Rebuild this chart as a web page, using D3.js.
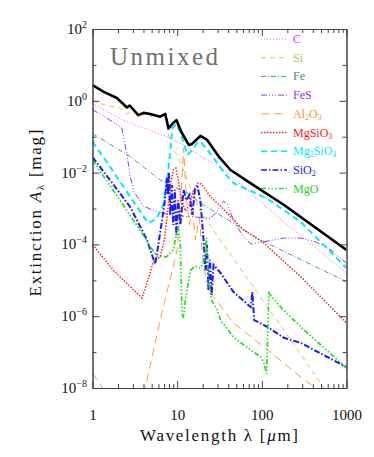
<!DOCTYPE html>
<html>
<head>
<meta charset="utf-8">
<script src="https://cdn.jsdelivr.net/npm/d3@7"></script>
<style>
body { margin: 0; background: #fff; }
text { font-family: "Liberation Serif", "DejaVu Serif", serif; }
.axis path, .axis line { stroke: #444; stroke-width: 1; }
.axis text { fill: #111; font-size: 15px; }
</style>
</head>
<body>
<svg id="vis" width="374" height="457"></svg>
<script>
// wavelength [um], extinction [mag]
var total = [[1,2.75],[1.34,1.8],[1.94,1.2],[2.55,0.65],[2.75,0.74],[3.47,0.40],[4.0,0.46],[4.8,0.43],[6.3,0.36],[7.25,0.43],[7.9,0.17],[8.8,0.23],[9.8,0.29],[11.2,0.135],[13.7,0.059],[15,0.063],[18.8,0.105],[22.6,0.081],[31,0.028],[42.7,0.0118],[74,0.005],[183,0.00125],[416,3.1e-4],[1000,7e-5]];
var carbon = [[1,0.84],[2.3,0.29],[3.66,0.19],[7.6,0.10],[13.2,0.052],[18.8,0.029],[32.5,0.0143],[182,4.2e-4],[1000,1.6e-5]];
var silicon = [[1,1.0],[1.41,0.76],[2.12,0.63],[2.5,0.43],[3.02,0.52],[3.66,0.38],[4.43,0.46],[5.2,0.33],[6.3,0.40],[7.45,0.31],[8.1,0.081],[8.8,0.043],[10,0.031],[18.8,8.1e-4],[56,2.1e-5],[182,4.1e-7],[600,7.2e-9],[1000,1e-9]];
var iron = [[1,0.123],[2.79,0.0277],[6.3,0.0062],[13.1,0.0027],[18.8,0.00142],[97,1.33e-4],[1000,9.1e-6]];
var fes = [[1,0.57],[1.61,0.29],[2.22,0.175],[2.36,0.081],[2.56,0.031],[2.78,0.008],[3.1,0.0029],[3.97,1.17e-3],[5.5,8.5e-4],[8.3,6.6e-4],[15.6,5.8e-4],[24.8,5.4e-4],[29.2,8e-4],[32.5,1.25e-3],[35.3,1.6e-3],[39.4,1.33e-3],[42.7,7.5e-4],[49,3.7e-4],[61,1.6e-4],[74,1.03e-4],[102,1.17e-4],[182,1.5e-4],[289,1.5e-4],[435,1.17e-4],[656,7e-5],[1000,3e-5]];
var al2o3 = [[1,2.6e-8],[3.17,4.9e-10],[6.3,7.8e-7],[10,7e-5],[11.2,3.3e-3],[11.9,0.048],[12.9,1.7e-3],[14,3.5e-4],[15.1,1.25e-3],[16.4,1.3e-4],[18.3,5.4e-4],[20.4,2.7e-5],[23.4,5.4e-6],[46,6.5e-7],[117,1.15e-7],[289,2e-8],[605,5.6e-9],[1000,1.5e-9]];
var mgsio3 = [[1,1e-4],[1.75,1.94e-5],[3.83,3.2e-6],[4.4,8.4e-6],[5.22,3.2e-5],[6.3,4.5e-5],[7.05,1.33e-4],[7.65,6.6e-4],[8.3,4.5e-3],[9.0,0.0118],[9.66,0.0134],[10.3,6.2e-3],[11.2,1.73e-3],[12.5,8.5e-4],[14,1.25e-3],[15.6,3.3e-3],[17.6,5.1e-3],[19.4,4.8e-3],[24.8,2.1e-3],[32.5,1.17e-3],[61,2.5e-4],[105,1.1e-4],[289,1.24e-5],[1000,6.5e-7]];
var mg2sio4 = [[1,0.073],[1.61,0.0146],[2.79,2.1e-3],[4.55,3.9e-4],[5.67,5.1e-4],[6.86,1.25e-3],[7.65,6.2e-3],[8.3,0.043],[8.77,0.175],[9.78,0.226],[10.6,0.154],[11.9,0.071],[13.2,0.031],[15.1,0.043],[17.4,0.071],[19.4,0.067],[22.8,0.043],[26.9,0.0255],[35.3,0.0104],[46.4,5.1e-3],[73.8,3.1e-3],[117,1.84e-3],[289,4.2e-4],[1000,2.2e-5]];
var sio2 = [[1,0.0272],[1.61,6.2e-3],[2.79,1.1e-3],[4.4,1.33e-4],[5.5,2.8e-5],[5.98,9.6e-5],[6.5,3.5e-4],[7.05,1.25e-3],[7.55,7.1e-3],[7.76,2.4e-3],[7.97,0.0104],[8.3,6.6e-4],[8.65,4.5e-3],[9.0,3.5e-4],[9.4,3.3e-3],[9.78,1.8e-4],[10.3,1.7e-3],[10.9,3.5e-4],[11.9,3.3e-3],[12.9,1.7e-3],[14.0,2.4e-3],[15.1,6.6e-4],[16.2,3.3e-3],[17.4,4e-3],[18.8,1.7e-3],[20.5,1.33e-4],[21.6,1.9e-5],[22.5,9.6e-5],[23.4,5.4e-6],[24.4,3.7e-5],[25.5,3.9e-6],[26.9,2.7e-5],[32.5,1.6e-5],[46.4,4.7e-6],[73.8,1.8e-6],[77.3,4.7e-6],[81.2,7.8e-7],[117,5e-7],[182,2.5e-7],[289,1.8e-7],[1000,3.8e-8]];
var mgo = [[1,0.0224],[2.3,1.25e-3],[3.97,1.83e-4],[4.81,8.5e-5],[5.82,4.75e-5],[7.45,4.5e-5],[9.0,7e-5],[9.78,1.83e-4],[10.3,3.05e-4],[10.9,9.6e-5],[11.4,1.23e-6],[11.9,8.9e-7],[12.5,2.8e-6],[13.2,6.1e-6],[14.4,1.9e-5],[16.4,2.5e-5],[18.8,2.2e-5],[20.5,3.2e-5],[22.2,1.5e-4],[23.4,1.02e-5],[25.5,2.8e-6],[29.7,1.5e-6],[32.5,7.8e-7],[46.4,2.6e-7],[73.8,1.14e-7],[97,7.3e-8],[105,5.3e-8],[114,2.5e-8],[121,4.4e-6],[167,1.8e-6],[289,5e-7],[1000,3.6e-8]];

var names = ["C", "Si", "Fe", "FeS", "Al2O3", "MgSiO3", "Mg2SiO4", "SiO2", "MgO"];
var series = [carbon, silicon, iron, fes, al2o3, mgsio3, mg2sio4, sio2, mgo];
var colors = ["#ff55ff", "#cccc55", "#4f9a9a", "#9a35f0", "#ff9a40", "#ff2222", "#00eaff", "#1a1aff", "#22dd22"];
var textColors = ["#ff22ff", "#c4c440", "#3f8f8f", "#9a30f0", "#ff9030", "#ff1a1a", "#00eaff", "#2020ff", "#1ed81e"];
var dashes = ["1,2", "5,4", "5,2,1,2", "6,2,1,2,1,2,1,2", "8,5", "1.5,1.5", "6,4", "6,2,1.5,2", "5,2,1.5,2,1.5,2,1.5,2"];
var widths = [1, 1, 1, 1, 1, 1.5, 2, 2, 1.7];

var xMajor = [1, 10, 100, 1000];
var yMajor = [1e2, 1, 1e-2, 1e-4, 1e-6, 1e-8];
var yMinor = [1e1, 1e-1, 1e-3, 1e-5, 1e-7];
var yExp = ["2", "0", "\u22122", "\u22124", "\u22126", "\u22128"];

var svg = d3.select("#vis");
var x = d3.scaleLog().domain([1, 1000]).range([92.5, 346.5]);
var y = d3.scaleLog().domain([1e-8, 1e2]).range([388, 29]);
var xMinor = x.ticks().filter(d => xMajor.indexOf(d) < 0);

svg.append("defs").append("clipPath").attr("id", "plot")
   .append("rect")
   .attr("x", x(1)).attr("y", y(1e2))
   .attr("width", x(1000) - x(1)).attr("height", y(1e-8) - y(1e2));

var line = d3.line().x(d => x(d[0])).y(d => y(d[1]));
var curves = svg.append("g").attr("clip-path", "url(#plot)");

series.forEach((s, i) => {
	curves.append("path")
	      .attr("d", line(s))
	      .attr("fill", "none")
	      .attr("stroke", colors[i])
	      .attr("stroke-width", widths[i])
	      .attr("stroke-dasharray", dashes[i]);
});

curves.append("path")
      .attr("d", line(total))
      .attr("fill", "none")
      .attr("stroke", "#000")
      .attr("stroke-width", 2.6)
      .attr("stroke-linejoin", "round");

// axes, ticks pointing inwards on all four sides
function addAxis(axis, tx, ty) {
	return svg.append("g")
	          .attr("class", "axis")
	          .attr("transform", "translate(" + tx + "," + ty + ")")
	          .call(axis);
}
addAxis(d3.axisBottom(x).tickValues(xMajor).tickSize(-7).tickSizeOuter(0).tickPadding(21).tickFormat(d3.format("d")), 0, y(1e-8));
addAxis(d3.axisBottom(x).tickValues(xMinor).tickSize(-4).tickSizeOuter(0).tickFormat(""), 0, y(1e-8));
addAxis(d3.axisTop(x).tickValues(xMajor).tickSize(-7).tickSizeOuter(0).tickFormat(""), 0, y(1e2));
addAxis(d3.axisTop(x).tickValues(xMinor).tickSize(-4).tickSizeOuter(0).tickFormat(""), 0, y(1e2));
addAxis(d3.axisLeft(y).tickValues(yMajor).tickSize(-7).tickSizeOuter(0).tickFormat(""), x(1), 0);
addAxis(d3.axisLeft(y).tickValues(yMinor).tickSize(-4).tickSizeOuter(0).tickFormat(""), x(1), 0);
addAxis(d3.axisRight(y).tickValues(yMajor).tickSize(-7).tickSizeOuter(0).tickFormat(""), x(1000), 0);
addAxis(d3.axisRight(y).tickValues(yMinor).tickSize(-4).tickSizeOuter(0).tickFormat(""), x(1000), 0);

// y tick labels 10^n
yMajor.forEach((v, i) => {
	var t = svg.append("text")
	           .attr("x", 87)
	           .attr("y", y(v) + 5)
	           .attr("text-anchor", "end")
	           .attr("font-size", 15)
	           .attr("fill", "#111");
	t.append("tspan").text("10");
	t.append("tspan").attr("dy", -6).attr("font-size", 10).text(yExp[i]);
});

// axis titles
svg.append("text")
   .attr("x", 219).attr("y", 441)
   .attr("text-anchor", "middle")
   .attr("font-size", 17)
   .attr("fill", "#111")
   .attr("textLength", 158)
   .html("Wavelength \u03bb [<tspan font-style='italic'>\u03bc</tspan>m]");

var ylab = svg.append("text")
   .attr("transform", "translate(41,213) rotate(-90)")
   .attr("text-anchor", "middle")
   .attr("font-size", 17)
   .attr("fill", "#111")
   .attr("textLength", 167);
ylab.append("tspan").text("Extinction ");
ylab.append("tspan").attr("font-style", "italic").text("A");
ylab.append("tspan").attr("dy", 3).attr("font-size", 11).text("\u03bb");
ylab.append("tspan").attr("dy", -3).text(" [mag]");

svg.append("text")
   .attr("x", 110).attr("y", 65)
   .attr("font-size", 25)
   .attr("fill", "#707070")
   .attr("textLength", 108)
   .text("Unmixed");

// legend
var legend = svg.append("g");
names.forEach((n, i) => {
	var ly = 39 + i * 18.7;
	legend.append("line")
	      .attr("x1", 261).attr("x2", 287)
	      .attr("y1", ly).attr("y2", ly)
	      .attr("stroke", colors[i])
	      .attr("stroke-width", Math.min(widths[i], 1.5))
	      .attr("stroke-dasharray", dashes[i]);
	var t = legend.append("text")
	              .attr("x", 293).attr("y", ly + 4)
	              .attr("font-size", 12)
	              .attr("fill", textColors[i]);
	var sub = false;
	n.split(/(\d)/).filter(p => p !== "").forEach(p => {
		if (/\d/.test(p)) {
			t.append("tspan").attr("font-size", 8).attr("dy", 2).text(p);
			sub = true;
		} else {
			t.append("tspan").attr("dy", sub ? -2 : 0).text(p);
			sub = false;
		}
	});
});
</script>
</body>
</html>
